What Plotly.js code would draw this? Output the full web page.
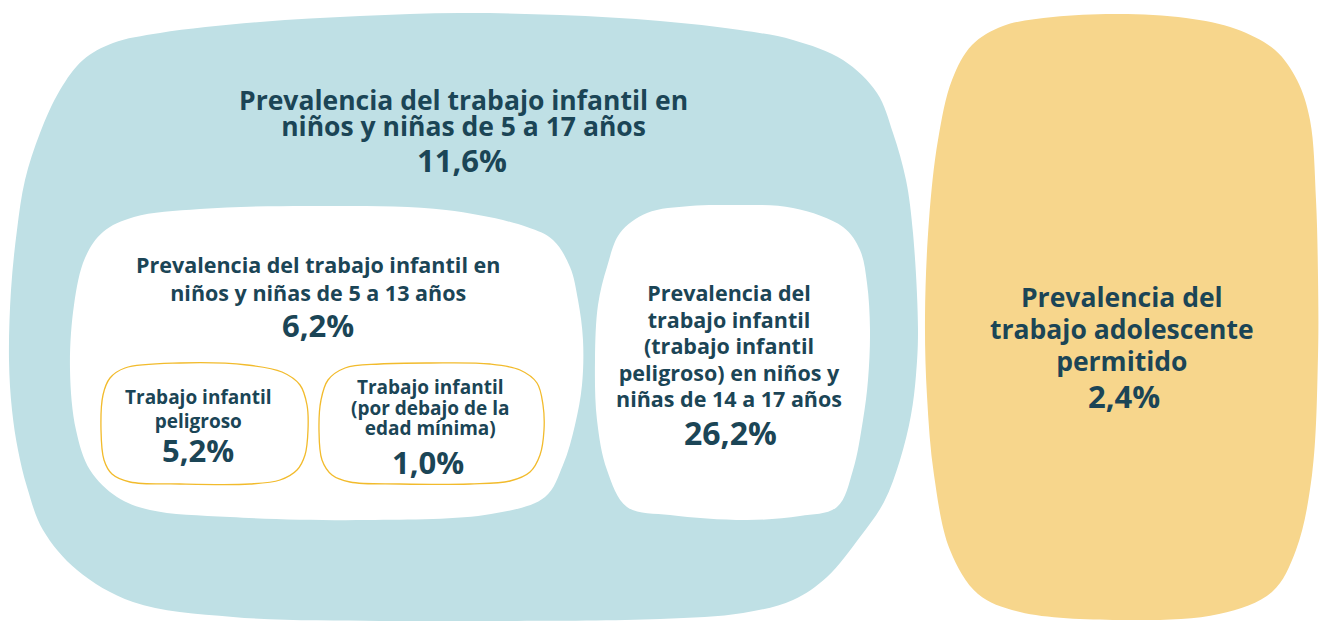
<!DOCTYPE html>
<html>
<head>
<meta charset="utf-8">
<script src="https://cdn.plot.ly/plotly-3.0.1.min.js"></script>
<style>html,body{margin:0;padding:0;background:#fff;}#chart{width:1325px;height:621px;}</style>
</head>
<body>
<div id="chart"></div>
<script>
// ---- Data ----
const labelLines = [
  ["Prevalencia del trabajo infantil en", "niños y niñas de 5 a 17 años"],
  ["Prevalencia del trabajo infantil en", "niños y niñas de 5 a 13 años"],
  ["Trabajo infantil", "peligroso"],
  ["Trabajo infantil", "(por debajo de la", "edad mínima)"],
  ["Prevalencia del", "trabajo infantil", "(trabajo infantil", "peligroso) en niños y", "niñas de 14 a 17 años"],
  ["Prevalencia del", "trabajo adolescente", "permitido"]
];
const values = [11.6, 6.2, 5.2, 1.0, 26.2, 2.4];

// ---- Text placement (positions / sizes) ----
const textLayout = [
  {x: 463, y0: 100, y1: 126, step: 26, size: 26.5, vx: 462, vy: 160, vsize: 31},
  {x: 318, y0: 264, y1: 292, step: 28, size: 21.5, vx: 318, vy: 325, vsize: 31},
  {x: 198, y0: 397, y1: 421, step: 24, size: 19, vx: 198, vy: 450, vsize: 31},
  {x: 430, y0: 387, y1: 428, step: 20.5, size: 19, vx: 428, vy: 462, vsize: 31},
  {x: 729, y0: 292, y1: 398, step: 26.5, size: 21.5, vx: 730, vy: 432, vsize: 32},
  {x: 1122, y0: 297, y1: 361, step: 32, size: 26.5, vx: 1124, vy: 396, vsize: 31}
];

// ---- Blob outlines (decorative geometry, pixel space) ----
const blobBlue = [[460,13],[560,15],[660,21],[740,30],[793,40],[843,60],[877,93],[893,133],[906,180],[913,233],[918,330],[916,375],[911,415],[900,460],[884,502],[860,537],[827,577],[793,600],[743,613],[660,619],[500,621],[380,621],[233,617],[133,602],[77,570],[43,530],[27,487],[18,450],[12,410],[9,360],[11,290],[17,230],[25,180],[40,133],[60,90],[83,60],[113,43],[160,33],[260,22],[360,16]];
const blobYellow = [[1119,14],[1186,18],[1236,29],[1275,50],[1297,80],[1310,120],[1316,200],[1318,277],[1318,356],[1312,475],[1296,550],[1272,592],[1219,614],[1119,620],[1020,612],[978,594],[950,550],[934,475],[927,396],[925,317],[929,220],[938,140],[952,80],[972,45],[1003,26],[1053,17]];
const blobWhite1 = [[312,206],[446,210],[527,227],[553,240],[570,267],[578,300],[583,340],[582,385],[575,425],[563,465],[545,497],[491,514],[367,520],[230,517],[150,510],[117,497],[90,470],[76,430],[70,370],[74,305],[85,258],[103,232],[134,217],[200,209]];
const blobWhite2 = [[727,205],[793,208],[843,227],[860,250],[867,283],[870,330],[868,380],[863,420],[853,470],[837,507],[800,516],[747,520],[670,515],[627,507],[607,470],[597,420],[595,360],[598,305],[607,267],[620,233],[647,213],[690,206]];
const blobOut1 = [[180,363],[247,365],[282,372],[300,385],[307,405],[308,430],[305,455],[297,470],[280,480],[250,484],[180,484],[130,482],[112,474],[104,460],[101,430],[103,395],[110,378],[125,368]];
const blobOut2 = [[430,363],[490,364],[520,370],[537,383],[543,405],[544,430],[540,455],[530,472],[510,481],[470,484],[400,484],[350,482],[332,475],[322,460],[319,430],[321,400],[328,380],[345,368],[380,364]];

// centripetal Catmull-Rom -> cubic Bezier, closed
function smoothPath(pts) {
  const n = pts.length;
  const f = v => v.toFixed(2);
  const dist = (a, b) => Math.hypot(b[0] - a[0], b[1] - a[1]);
  let d = 'M' + f(pts[0][0]) + ',' + f(pts[0][1]);
  for (let i = 0; i < n; i++) {
    const p0 = pts[(i - 1 + n) % n], p1 = pts[i], p2 = pts[(i + 1) % n], p3 = pts[(i + 2) % n];
    const d1 = Math.sqrt(dist(p0, p1)), d2 = Math.sqrt(dist(p1, p2)), d3 = Math.sqrt(dist(p2, p3));
    const c1 = [0, 1].map(k => (d1 * d1 * p2[k] - d2 * d2 * p0[k] + (2 * d1 * d1 + 3 * d1 * d2 + d2 * d2) * p1[k]) / (3 * d1 * (d1 + d2)));
    const c2 = [0, 1].map(k => (d3 * d3 * p1[k] - d2 * d2 * p3[k] + (2 * d3 * d3 + 3 * d3 * d2 + d2 * d2) * p2[k]) / (3 * d3 * (d3 + d2)));
    d += ' C' + f(c1[0]) + ',' + f(c1[1]) + ' ' + f(c2[0]) + ',' + f(c2[1]) + ' ' + f(p2[0]) + ',' + f(p2[1]);
  }
  return d + ' Z';
}

const BLUE = '#bfe0e5', YELLOW = '#f7d68c', WHITE = '#ffffff', OUTLINE = '#f2bb2c', TEXT = '#1b4556';
function shape(pts, fill, line, width) {
  return {type: 'path', xref: 'x', yref: 'y', path: smoothPath(pts), fillcolor: fill,
          line: {color: line || fill, width: width || 0}, layer: 'below'};
}
const shapes = [
  shape(blobBlue, BLUE),
  shape(blobYellow, YELLOW),
  shape(blobWhite1, WHITE),
  shape(blobWhite2, WHITE),
  shape(blobOut1, WHITE, OUTLINE, 1.3),
  shape(blobOut2, WHITE, OUTLINE, 1.3)
];

const FONT = 'Open Sans, Lato, sans-serif';
const fmt = v => v.toFixed(1).replace('.', ',') + '%';
const annotations = [];
labelLines.forEach((lines, g) => {
  const t = textLayout[g];
  const txt = lines.map(l => '<span style="font-size:' + t.size + 'px">' + l + '</span>').join('<br>');
  annotations.push({x: t.x, y: (t.y0 + t.y1) / 2, xref: 'x', yref: 'y', text: txt, showarrow: false,
    xanchor: 'center', yanchor: 'middle', align: 'center',
    font: {family: FONT, size: t.step / 1.3, color: TEXT, weight: 700}});
  annotations.push({x: t.vx, y: t.vy, xref: 'x', yref: 'y', text: fmt(values[g]), showarrow: false,
    xanchor: 'center', yanchor: 'middle',
    font: {family: FONT, size: t.vsize, color: TEXT, weight: 700}});
});

const layout = {
  width: 1325, height: 621,
  margin: {l: 0, r: 0, t: 0, b: 0},
  paper_bgcolor: '#ffffff', plot_bgcolor: '#ffffff',
  xaxis: {range: [0, 1325], visible: false, fixedrange: true},
  yaxis: {range: [621, 0], visible: false, fixedrange: true},
  shapes: shapes,
  annotations: annotations,
  showlegend: false
};
Plotly.newPlot('chart', [], layout, {staticPlot: true, displayModeBar: false});
</script>
</body>
</html>
